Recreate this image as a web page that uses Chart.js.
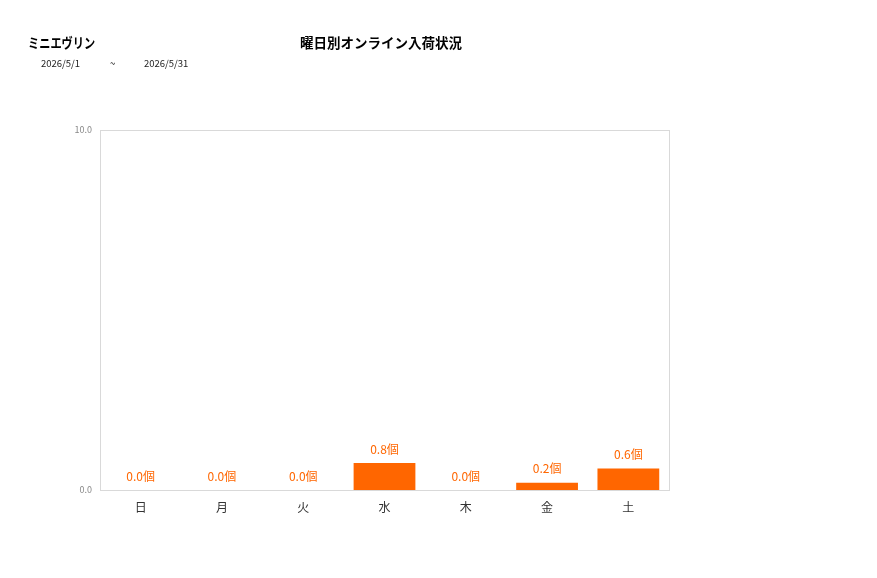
<!DOCTYPE html>
<html><head><meta charset="utf-8">
<script src="https://cdn.jsdelivr.net/npm/chart.js@4"></script>
<style>
html,body{margin:0;padding:0;background:#fff;}
#wrap{position:relative;width:877px;height:578px;font-family:"Noto Sans CJK JP","Noto Sans",sans-serif;}
.t{position:absolute;white-space:nowrap;color:#000;}
</style></head><body>
<div id="wrap">
<canvas id="c" width="877" height="578"></canvas>
<div class="t" style="left:28px;top:32px;font-size:14px;font-weight:bold;transform:scaleX(0.8);transform-origin:0 0;">ミニエヴリン</div>
<div class="t" style="left:41px;top:56px;font-size:9.5px;color:#222;">2026/5/1</div>
<div class="t" style="left:110px;top:56px;font-size:9.5px;color:#222;">~</div>
<div class="t" style="left:144px;top:56px;font-size:9.5px;color:#222;">2026/5/31</div>
<div class="t" style="left:300px;top:32px;font-size:13.5px;font-weight:bold;">曜日別オンライン入荷状況</div>
</div>
<script>
const categories = ["日","月","火","水","木","金","土"];
const values = [0, 0, 0, 0.75, 0, 0.2, 0.6];
const yTicks = [0, 10];
const unit = "個";

const decor = {
  id:'decor',
  afterDraw(chart){
    const {ctx, chartArea:a} = chart;
    ctx.save();
    ctx.strokeStyle = '#d9d9d9';
    ctx.lineWidth = 1;
    ctx.strokeRect(Math.round(a.left)+0.5, Math.round(a.top)+0.5, Math.round(a.right-a.left), Math.round(a.bottom-a.top));
    const meta = chart.getDatasetMeta(0);
    ctx.fillStyle = '#FF6600';
    ctx.font = '12px "Noto Sans CJK JP", sans-serif';
    ctx.textAlign = 'center';
    ctx.textBaseline = 'bottom';
    meta.data.forEach((bar,i)=>{
      ctx.fillText(values[i].toFixed(1)+unit, bar.x, bar.y - 8);
    });
    ctx.restore();
  }
};

new Chart(document.getElementById('c'), {
  type:'bar',
  data:{labels:categories, datasets:[{data:values, backgroundColor:'#FF6600', borderWidth:0, barPercentage:0.76, categoryPercentage:1}]},
  options:{
    responsive:false, animation:false,
    layout:{padding:{left:50,top:130,right:208,bottom:48}},
    plugins:{legend:{display:false}, tooltip:{enabled:false}},
    scales:{
      x:{grid:{display:false, tickLength:0}, border:{display:false},
         ticks:{color:'#333', font:{size:12, family:'"Noto Sans CJK JP", sans-serif'}, padding:10},
         afterFit(s){s.height=40;}},
      y:{min:0, max:10, grid:{display:false, tickLength:0}, border:{display:false},
         afterBuildTicks(s){s.ticks = yTicks.map(v=>({value:v}));},
         ticks:{color:'#888', font:{size:9, family:'"Noto Sans CJK JP", sans-serif'}, padding:8, callback:v=>Number(v).toFixed(1)},
         afterFit(s){s.width=50;}}
    }
  },
  plugins:[decor]
});
</script>
</body></html>
